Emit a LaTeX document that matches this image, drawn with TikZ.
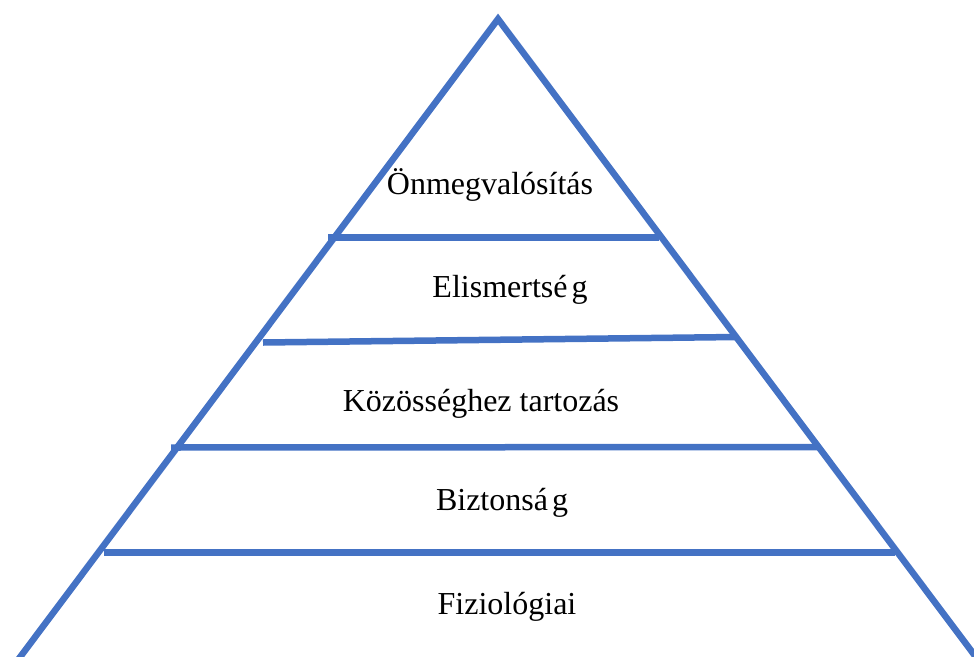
\documentclass[tikz,border=0pt]{standalone}
\usepackage{fontspec}
\setmainfont{Liberation Serif}
\definecolor{pyrblue}{HTML}{4472C4}
\begin{document}
\begin{tikzpicture}[x=1pt,y=-1pt,
  edge/.style={draw=pyrblue,line width=6.5pt,line join=miter,line cap=butt},
  level/.style={draw=pyrblue,line width=6.5pt,line cap=butt},
  label/.style={anchor=base,inner sep=0pt,font=\fontsize{32}{38}\selectfont}]
\useasboundingbox (0,0) rectangle (974,656);
\clip (0,0) rectangle (974,656);
% outline of the pyramid
\coordinate (apex) at (498,19);
\coordinate (bl) at (10.4,670);
\coordinate (br) at (985.6,670);
\draw[edge] (bl) -- (apex) -- (br);
% dividing lines between the levels
\coordinate (l1a) at (328,237.5);  \coordinate (l1b) at (659,237.5);
\coordinate (l2a) at (263,342.5);  \coordinate (l2b) at (737,337);
\coordinate (l3a) at (171,447.5);  \coordinate (l3b) at (820,447);
\coordinate (l4a) at (104,552.5);  \coordinate (l4b) at (895,552.5);
\draw[level] (l1a) -- (l1b);
\draw[level] (l2a) -- (l2b);
\draw[level] (l3a) -- (l3b);
\draw[level] (l4a) -- (l4b);
% level names
\node[label] (t1) at (490,194) {Önmegvalósítás};
\node[label] (t2) at (510,297) {Elismertsé\kern4pt g};
\node[label] (t3) at (481,411) {Közösséghez tartozás};
\node[label] (t4) at (502,510) {Biztonsá\kern4pt g};
\node[label] (t5) at (507,614) {Fiziológiai};
\end{tikzpicture}
\end{document}
